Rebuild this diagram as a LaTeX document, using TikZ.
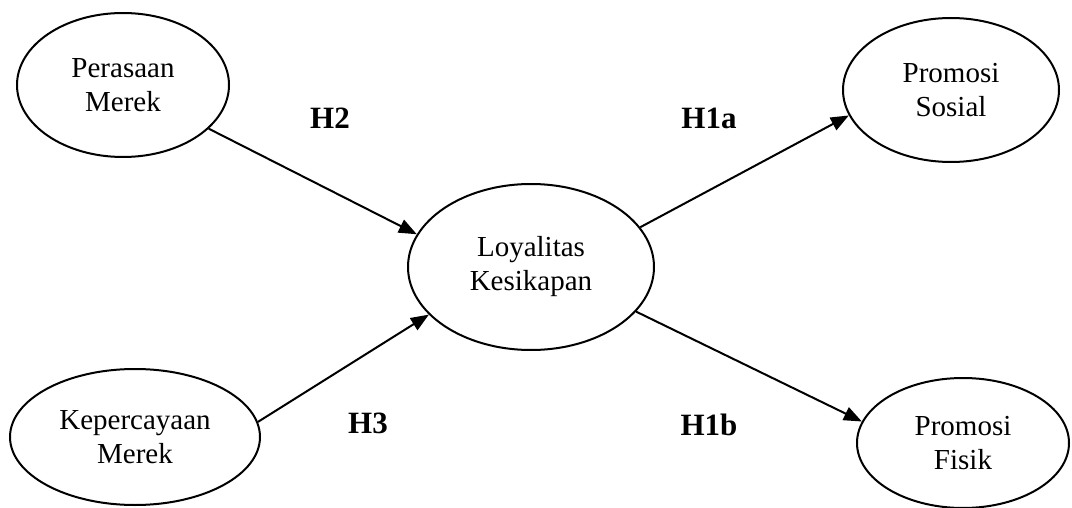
\documentclass[tikz,border=0pt]{standalone}
\usepackage{fontspec}
\setmainfont{Liberation Serif}
\usepackage{tikz}
\usetikzlibrary{shapes.geometric, arrows.meta, positioning}

\begin{document}
\begin{tikzpicture}[
    x=0.5pt, y=-0.5pt,
    var/.style={ellipse, draw, line width=1pt, inner sep=0pt,
                minimum width=#1, align=center,
                font=\fontsize{14.5}{17}\selectfont},
    hyp/.style={font=\fontsize{15.5}{18}\selectfont\bfseries},
    arr/.style={-{Triangle[length=9pt, width=7pt]}, line width=1pt},
]
    \useasboundingbox (0,0) rectangle (1072,508);

    % Variables
    \node[var=106pt, minimum height=72pt] (pm) at (123,85) {Perasaan\\Merek};
    \node[var=125pt, minimum height=68pt] (km) at (135,437) {Kepercayaan\\Merek};
    \node[var=123pt, minimum height=83pt] (lk) at (531,267) {Loyalitas\\Kesikapan};
    \node[var=108pt, minimum height=72pt] (ps) at (951,90) {Promosi\\Sosial};
    \node[var=106pt, minimum height=65pt] (pf) at (963,443) {Promosi\\Fisik};

    % Paths
    \draw[arr] (pm.-27) -- (lk.164);
    \draw[arr] (km.7) -- (lk.205);
    \draw[arr] (lk.20) -- (ps.194);
    \draw[arr] (lk.-23) -- (pf.168);

    % Hypotheses
    \node[hyp] (h2) at (330,118) {H2};
    \node[hyp] (h3) at (368,423) {H3};
    \node[hyp] (h1a) at (709,118) {H1a};
    \node[hyp] (h1b) at (709,425) {H1b};

\end{tikzpicture}
\end{document}
